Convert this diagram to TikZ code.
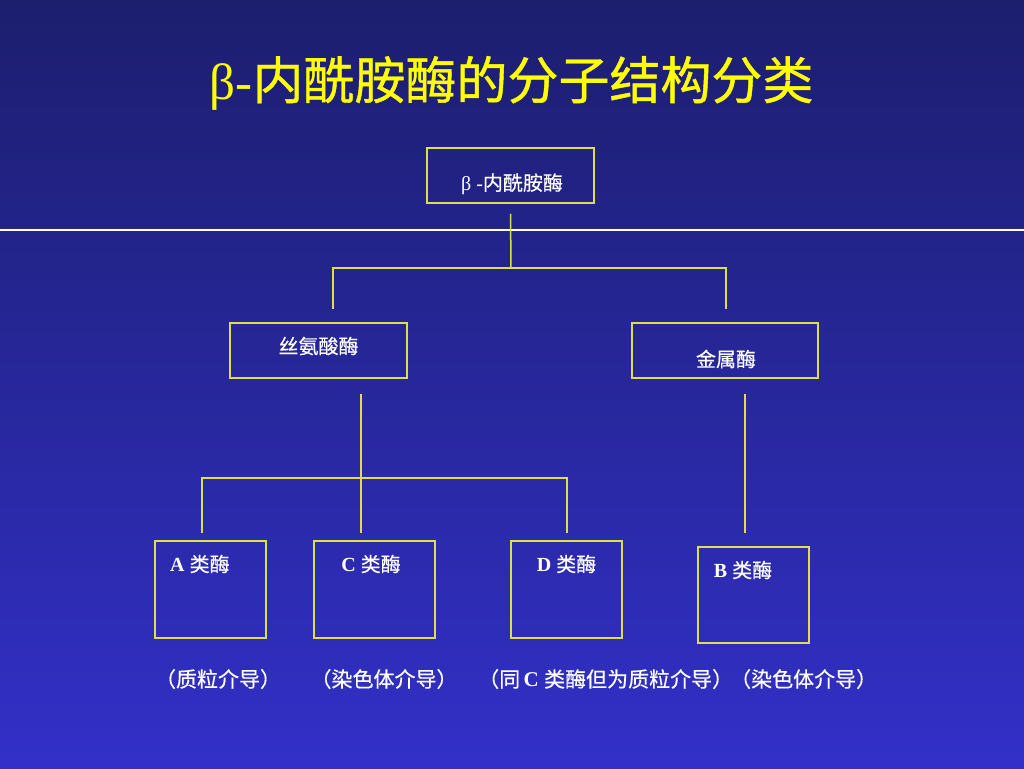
\documentclass[tikz,border=0pt]{standalone}
\usepackage{fontspec}
\setmainfont{Liberation Serif}
\newfontfamily\cjk[FakeBold=0.4]{Noto Sans CJK SC}
\newfontfamily\cjkt[FakeBold=0.8]{Noto Sans CJK SC}
\usepackage{tikz}
\usetikzlibrary{positioning}
\definecolor{bgtop}{RGB}{28,30,110}
\definecolor{bgbot}{RGB}{50,48,200}
\definecolor{lineyel}{RGB}{222,222,72}
\definecolor{titleyel}{RGB}{255,255,0}

\begin{document}
\begin{tikzpicture}[x=1pt,y=-1pt,
  box/.style={draw=lineyel,line width=1.5pt,inner sep=0pt},
  link/.style={draw=lineyel,line width=1.5pt},
  lbl/.style={text=white,inner sep=0pt,font=\fontsize{20}{22}\selectfont},
  note/.style={lbl,font=\fontsize{21}{23}\selectfont}]
  \useasboundingbox (0,0) rectangle (1024,768);
  \shade[top color=bgtop,bottom color=bgbot] (0,0) rectangle (1024,768);
  \node[text=titleyel,font=\fontsize{51}{55}\selectfont] (title) at (511.5,83) {β-{\cjkt 内酰胺酶的分子结构分类}};
  \draw[white,line width=1.5pt] (0,230) -- (1024,230);
  %boxes
  \node[box,minimum width=167pt,minimum height=55pt] (beta) at (510.5,175.5) {};
  \node[box,minimum width=177pt,minimum height=55pt] (serine) at (318.5,350.5) {};
  \node[box,minimum width=186pt,minimum height=55pt] (metal) at (725,350.5) {};
  \node[box,minimum width=111pt,minimum height=97pt] (classA) at (210.5,589.5) {};
  \node[box,minimum width=121pt,minimum height=97pt] (classC) at (374.5,589.5) {};
  \node[box,minimum width=111pt,minimum height=97pt] (classD) at (566.5,589.5) {};
  \node[box,minimum width=111pt,minimum height=96pt] (classB) at (753.5,595) {};
  \node[lbl] (betaT) at (512,184) {β -{\cjk 内酰胺酶}};
  \node[lbl] (serineT) at (318.5,346) {\cjk 丝氨酸酶};
  \node[lbl] (metalT) at (726,359) {\cjk 金属酶};
  \node[lbl,anchor=west] (classAT) at (170,564) {\bfseries A {\cjk\mdseries 类酶}};
  \node[lbl] (classCT) at (371,564) {\bfseries C {\cjk\mdseries 类酶}};
  \node[lbl] (classDT) at (566.5,564) {\bfseries D {\cjk\mdseries 类酶}};
  \node[lbl] (classBT) at (743,570) {\bfseries B {\cjk\mdseries 类酶}};
  \node[note] (noteA) at (218,679) {\cjk （质粒介导）};
  \node[note] (noteC) at (384,679) {\cjk （染色体介导）};
  \node[note,anchor=west] (noteDB) at (478,679) {{\cjk （同}\,\bfseries C {\cjk\mdseries 类酶但为质粒介导）\hspace{-3pt}（染色体介导）}};
  %tree
  \coordinate (j1) at (511,268);
  \coordinate (j2) at (361,478);
  \coordinate (toSer) at (333,309);
  \coordinate (toMet) at (726,309);
  \coordinate (fromSer) at (361,394);
  \coordinate (fromMet) at (745,394);
  \coordinate (toA) at (202,533);
  \coordinate (toC) at (361,533);
  \coordinate (toD) at (567,533);
  \coordinate (toB) at (745,533);
  \draw[link] ([yshift=-10pt]beta.south) -- (j1);
  \draw[link] (toSer) |- (j1) -| (toMet);
  \draw[link] (fromSer) -- (j2);
  \draw[link] (toA) |- (j2) -| (toD);
  \draw[link] (j2) -- (toC);
  \draw[link] (fromMet) -- (toB);
\end{tikzpicture}
\end{document}
